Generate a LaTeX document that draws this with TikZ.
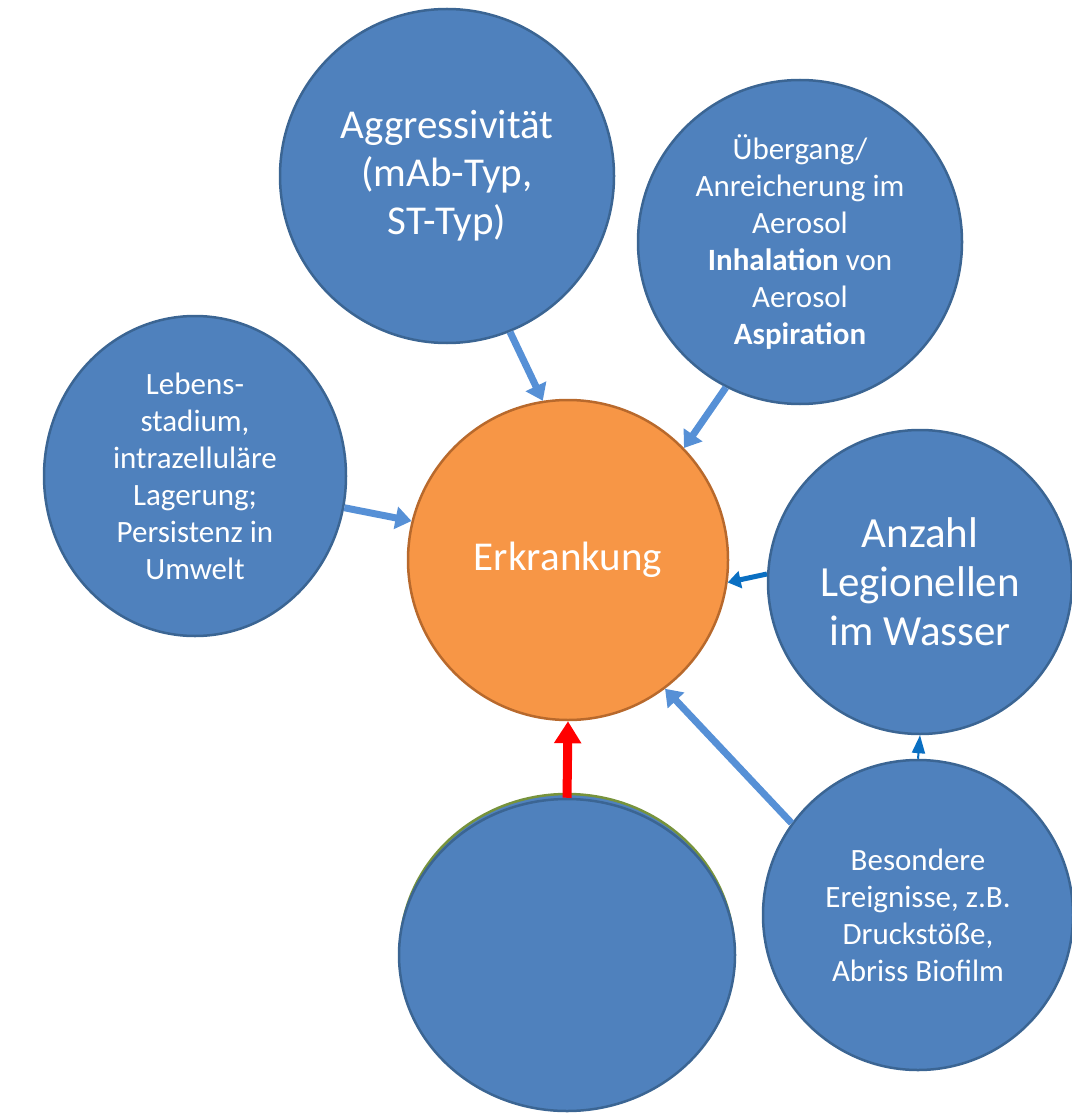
\documentclass[tikz,border=0pt]{standalone}
\usepackage{fontspec}
\setmainfont{Carlito}
\usetikzlibrary{arrows.meta, shapes.geometric}
\definecolor{bubblefill}{HTML}{4F81BD}
\definecolor{bubbleline}{HTML}{3B6593}
\definecolor{mainfill}{HTML}{F79646}
\definecolor{mainline}{HTML}{B8692C}
\definecolor{linkblue}{HTML}{5690D6}
\definecolor{darklink}{HTML}{0A6FC2}
\definecolor{rimgreen}{HTML}{77933C}

\begin{document}
\begin{tikzpicture}[x=1pt, y=-1pt,
	bubble/.style={circle, fill=bubblefill, draw=bubbleline, line width=2.5pt, text=white, align=center, inner sep=0pt, font=\fontsize{31}{37}\selectfont},
	oval/.style={bubble, ellipse},
	bigtext/.style={font=\fontsize{41}{48}\selectfont},
	link/.style={draw=linkblue, line width=7pt, -{Triangle[width=22pt, length=16pt]}},
	darkarrow/.style={draw=darklink, line width=5pt, -{Triangle[width=17pt, length=13pt]}},
	redarrow/.style={draw=red, line width=9pt, -{Triangle[width=26pt, length=22pt]}}
]
	\useasboundingbox (0,0) rectangle (1071,1115);
	% outer bubbles
	\node [bubble, bigtext, minimum size=334pt] (agg) at (447,176) {Aggressivität\\(mAb-Typ,\\ST-Typ)};
	\node [bubble, minimum size=324pt] (aero) at (800,242) {Übergang/\\Anreicherung im\\Aerosol\\\textbf{Inhalation} von\\Aerosol\\\textbf{Aspiration}};
	\node [oval, minimum width=302pt, minimum height=320pt] (leben) at (195,476) {Lebens-\\stadium,\\intrazelluläre\\Lagerung;\\Persistenz in\\Umwelt};
	\node [bubble, font=\fontsize{43}{49}\selectfont, minimum size=304pt] (anzahl) at (920,582) {Anzahl\\Legionellen\\im Wasser};
	\node [bubble, minimum size=310pt] (event) at (918,915) {Besondere\\Ereignisse, z.B.\\Druckstöße,\\Abriss Biofilm};
	\node [oval, draw=rimgreen, minimum width=334pt, minimum height=314pt] (rim) at (567,951) {};
	\node [oval, minimum width=336pt, minimum height=312pt] (blank) at (567,955) {};
	% centre
	\node [bubble, bigtext, fill=mainfill, draw=mainline, minimum size=320pt] (erk) at (568,560) {Erkrankung};
	% connectors
	\draw [link] (agg.-68) -- (erk.99);
	\draw [link] (aero.-117) -- (erk.44);
	\draw [link] (leben.-12) -- (erk.166);
	\draw [link] (event.144) -- (erk.-53);
	\draw [darkarrow] (anzahl.177) -- (erk.-8);
	\draw [darklink, line width=2pt, -{Triangle[width=13pt, length=18pt]}] (event.north) -- (anzahl.south);
	\draw [redarrow] (blank.north) -- (erk.south);
\end{tikzpicture}
\end{document}
